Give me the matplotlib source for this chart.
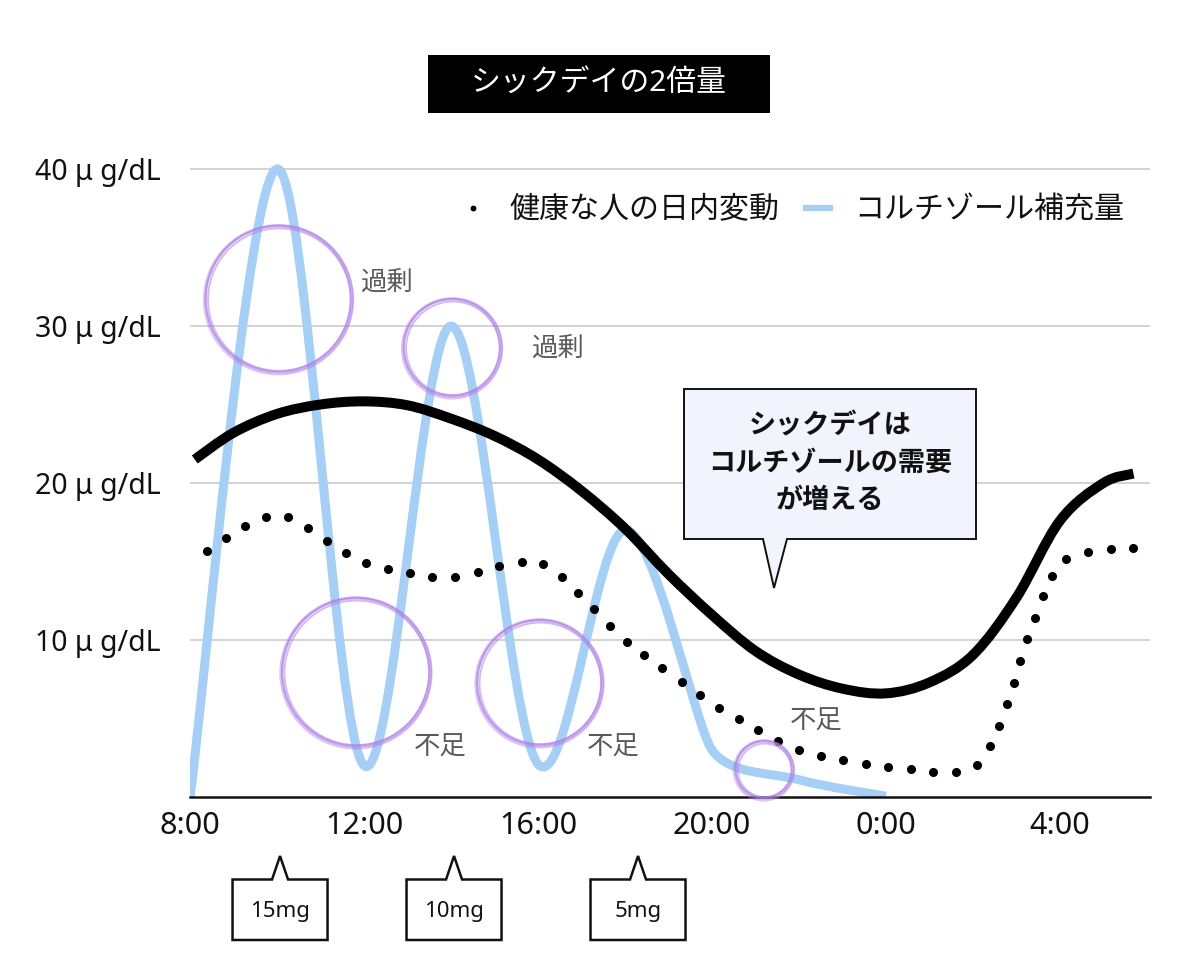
import matplotlib
matplotlib.use('Agg')
import numpy as np
import matplotlib.pyplot as plt
from matplotlib.lines import Line2D
from matplotlib.patches import Polygon, Rectangle, Circle, PathPatch
from matplotlib.path import Path
from matplotlib.transforms import IdentityTransform

plt.rcParams['font.family'] = ['Noto Sans', 'Noto Sans CJK JP', 'DejaVu Sans']

# ---------------- data ----------------
title = 'シックデイの2倍量'
x_ticks = [8, 12, 16, 20, 24, 28]
x_tick_labels = ['8:00', '12:00', '16:00', '20:00', '0:00', '4:00']
y_ticks = [10, 20, 30, 40]
y_tick_labels = ['10 μ g/dL', '20 μ g/dL', '30 μ g/dL', '40 μ g/dL']
legend_labels = ['健康な人の日内変動', 'コルチゾール補充量']

# healthy person's daily variation (dotted)
healthy_hours = [8.38, 8.82, 9.26, 9.74, 10.25, 10.71, 11.14, 11.59, 12.05, 12.55,
                 13.06, 13.57, 14.09, 14.61, 15.10, 15.63, 16.12, 16.56, 16.93, 17.29,
                 17.66, 18.04, 18.44, 18.86, 19.30, 19.72, 20.16, 20.61, 21.06, 21.52,
                 22.01, 22.51, 23.02, 23.53, 24.05, 24.57, 25.09, 25.60, 26.09, 26.39,
                 26.60, 26.78, 26.94, 27.08, 27.25, 27.42, 27.60, 27.82, 28.15, 28.65,
                 29.17, 29.69]
healthy_values = [15.69, 16.50, 17.26, 17.85, 17.82, 17.15, 16.32, 15.56, 14.92, 14.52,
                  14.29, 14.03, 13.99, 14.31, 14.71, 14.99, 14.84, 13.99, 12.99, 11.96,
                  10.89, 9.89, 9.04, 8.20, 7.34, 6.50, 5.69, 4.97, 4.27, 3.59,
                  2.99, 2.61, 2.36, 2.10, 1.93, 1.78, 1.61, 1.61, 2.06, 3.25,
                  4.54, 5.92, 7.28, 8.68, 10.04, 11.42, 12.78, 14.10, 15.16, 15.59,
                  15.78, 15.88]

# sick-day requirement (thick black)
sick_hours = [8.11, 9, 10, 11, 12, 13, 14, 15, 16, 17, 18, 19, 20, 21, 22, 23, 24, 25,
              26, 27, 28, 29, 29.69]
sick_values = [21.5, 23.2, 24.4, 25.0, 25.2, 24.95, 24.1, 23.0, 21.5, 19.5, 17.1, 14.2,
               11.6, 9.3, 7.8, 6.9, 6.6, 7.3, 9.05, 12.7, 17.6, 20.0, 20.6]

# cortisol replacement (light blue)
dose_hours = [8, 10, 12, 14, 16, 18, 20, 22, 24]
dose_values = [0, 40, 2.0, 30, 2.1, 17, 3.0, 1.1, 0.05]

# dose markers below the axis
dose_times = [10.07, 14.07, 18.30]
dose_labels = ['15mg', '10mg', '5mg']

# circled excess / shortage marks
mark_hours = [10.04, 14.03, 11.82, 16.04, 21.20]
mark_values = [31.7, 28.6, 7.93, 7.26, 1.72]
mark_radius_px = [73, 48.5, 74, 62.5, 28.5]
mark_text = ['過剰', '過剰', '不足', '不足', '不足']
mark_text_hours = [12.52, 16.44, 13.75, 17.72, 22.40]
mark_text_values = [32.74, 28.54, 3.12, 3.12, 4.81]

callout_text = 'シックデイは\nコルチゾールの需要\nが増える'


def smooth_path(ax, xs, ys, clamp=None):
    """Smoothed (Catmull-Rom style, like an office 'smoothed line') Bezier path
    through the points, built in screen space, returned in data coordinates."""
    P = ax.transData.transform(np.column_stack([xs, ys]))
    n = len(P)
    V = []
    for i in range(n):
        prev = P[max(i - 1, 0)]
        nxt = P[min(i + 1, n - 1)]
        v = (nxt - prev) / 6
        if clamp is not None:
            segs = []
            if i > 0:
                segs.append(np.linalg.norm(P[i] - P[i - 1]))
            if i < n - 1:
                segs.append(np.linalg.norm(P[i + 1] - P[i]))
            lim = min(segs) * clamp
            nv = np.linalg.norm(v)
            if nv > lim:
                v = v * lim / nv
        V.append(v)
    verts = [P[0]]
    codes = [Path.MOVETO]
    for i in range(n - 1):
        verts += [P[i] + V[i], P[i + 1] - V[i + 1], P[i + 1]]
        codes += [Path.CURVE4] * 3
    verts = ax.transData.inverted().transform(np.array(verts))
    return Path(verts, codes)


# ---------------- figure ----------------
W, H = 1200, 966
fig = plt.figure(figsize=(W / 100, H / 100), dpi=100)
fig.patch.set_facecolor('white')


def fx(px):
    return px / W


def fy(py):
    return 1 - py / H


ax = fig.add_axes([fx(190), fy(797), fx(1150) - fx(190), (797 - 137.6) / H])
ax.set_xlim(8, 30.07)
ax.set_ylim(0, 42)

for s in ['top', 'right', 'left']:
    ax.spines[s].set_visible(False)
ax.spines['bottom'].set_linewidth(1.8)
ax.spines['bottom'].set_color('#111111')
ax.spines['bottom'].set_zorder(6)

ax.set_yticks(y_ticks)
ax.set_yticklabels(y_tick_labels, fontsize=20.5, color='#111111')
ax.set_xticks(x_ticks)
ax.set_xticklabels(x_tick_labels, fontsize=22, color='#111111')
ax.tick_params(axis='y', length=0, pad=21)
ax.tick_params(axis='x', length=0, pad=10)
ax.yaxis.grid(True, color='#c8c8c8', linewidth=1.1)
ax.set_axisbelow(True)

blue = '#a6cff5'
ax.add_patch(PathPatch(smooth_path(ax, dose_hours, dose_values, clamp=1 / 3), fill=False,
                       edgecolor=blue, linewidth=6.5, zorder=3, capstyle='butt',
                       joinstyle='round'))
ax.plot(healthy_hours, healthy_values, linestyle='none', marker='o', markersize=5.5,
        color='black', zorder=4)
ax.add_patch(PathPatch(smooth_path(ax, sick_hours, sick_values), fill=False,
                       edgecolor='black', linewidth=7.2, zorder=5, capstyle='butt',
                       joinstyle='round'))

# circles (hand-drawn look)
purple = '#b081e6'
for h, v, r in zip(mark_hours, mark_values, mark_radius_px):
    cx, cy = ax.transData.transform((h, v))
    for dr, dx, dy, a in [(-1.7, 0.6, -0.3, 0.55), (-0.5, -0.4, 0.5, 0.6),
                          (0.6, 0.3, 0.2, 0.6), (1.7, -0.2, -0.4, 0.45)]:
        c = Circle((cx + dx, cy + dy), r + dr, transform=IdentityTransform(),
                   fill=False, edgecolor=purple, linewidth=1.4, alpha=a, zorder=7)
        fig.add_artist(c)

for t, h, v in zip(mark_text, mark_text_hours, mark_text_values):
    ax.text(h, v, t, fontsize=19, color='#5a5a5a', ha='center', va='center', zorder=8)

# legend
handles = [Line2D([], [], linestyle='none', marker='o', markersize=3.2, color='black'),
           Line2D([], [], color=blue, linewidth=4.5)]
leg = fig.legend(handles, legend_labels, ncol=2, frameon=False, fontsize=21.6,
                 loc='center right', bbox_to_anchor=(fx(1124), fy(210)),
                 borderpad=0, borderaxespad=0, handlelength=0.8, handletextpad=0.8,
                 columnspacing=0.9, numpoints=1)
for txt in leg.get_texts():
    txt.set_color('#111111')

# title box
fig.add_artist(Rectangle((fx(428), fy(113)), fx(770) - fx(428), (113 - 55) / H,
                         transform=fig.transFigure, facecolor='black', edgecolor='none'))
fig.text(fx(599), fy(84), title, color='white', fontsize=21.5, ha='center', va='center')

# callout box with tail
L, R, T, B = 684, 976, 389, 539
verts = [(L, T), (R, T), (R, B), (787, B), (774, 588), (763, B), (L, B)]
verts = [(x, H - y) for x, y in verts]
fig.add_artist(Polygon(verts, closed=True, transform=IdentityTransform(),
                       facecolor='#f1f3fd', edgecolor='#111111', linewidth=1.4, zorder=9))
fig.text(fx(830), fy(464), callout_text, fontsize=19.5, fontweight='bold', ha='center',
         va='center', linespacing=1.45, color='#111111', zorder=10)

# dose boxes under the axis
for t, lab in zip(dose_times, dose_labels):
    cx = ax.transData.transform((t, 0))[0]
    bl, br, bt, bb = cx - 47.5, cx + 47.5, 879.5, 940
    v = [(bl, bt), (cx - 8, bt), (cx, 856), (cx + 8, bt), (br, bt), (br, bb), (bl, bb)]
    v = [(x, H - y) for x, y in v]
    fig.add_artist(Polygon(v, closed=True, transform=IdentityTransform(),
                           facecolor='white', edgecolor='#111111', linewidth=1.8))
    fig.text(fx(cx), fy(911), lab, fontsize=16, ha='center', va='center', color='#111111')

fig.savefig('out.png', dpi=100, facecolor='white')
